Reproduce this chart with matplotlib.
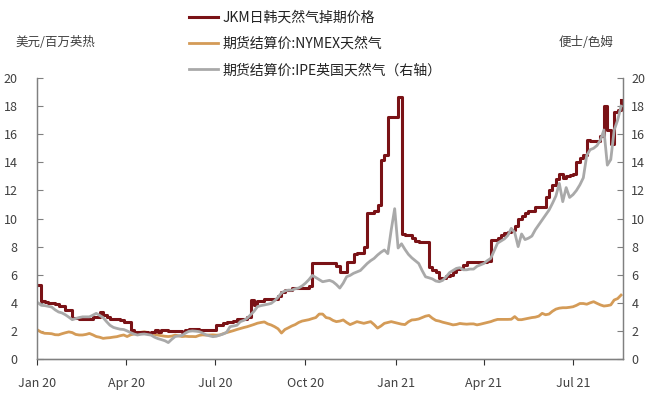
import matplotlib
matplotlib.use("Agg")
import matplotlib.pyplot as plt
import matplotlib.dates as mdates
import pandas as pd

plt.rcParams['font.family'] = ['Noto Sans CJK SC', 'DejaVu Sans']

# sampling dates (every 3.5 days)
dates = pd.date_range('2020-01-02', periods=171, freq='84h')

jkm = [5.3, 4.1, 4.05, 3.96, 3.96, 3.9, 3.77, 3.77, 3.5, 3.49,
       2.9, 2.9, 2.85, 2.82, 2.82, 2.82, 3.0, 3.0, 3.37, 3.1,
       3.0, 2.85, 2.82, 2.82, 2.8, 2.66, 2.66, 2.1, 1.95, 1.95,
       1.95, 1.95, 1.88, 1.95, 2.06, 1.95, 2.1, 2.05, 1.98, 2.0,
       2.0, 2.0, 1.95, 2.1, 2.17, 2.17, 2.17, 2.1, 2.1, 2.1,
       2.1, 2.1, 2.42, 2.42, 2.55, 2.66, 2.6, 2.7, 2.85, 2.85,
       2.85, 3.02, 4.2, 3.84, 4.15, 4.15, 4.27, 4.27, 4.27, 4.27,
       4.5, 4.8, 4.9, 4.9, 5.03, 5.03, 5.03, 5.03, 5.03, 5.2,
       6.85, 6.85, 6.85, 6.8, 6.8, 6.8, 6.85, 6.6, 6.2, 6.2,
       6.9, 6.9, 7.5, 7.52, 7.52, 8.0, 10.37, 10.37, 10.5, 10.96,
       14.16, 14.5, 17.25, 17.25, 17.25, 18.67, 8.9, 8.8, 8.8, 8.6,
       8.4, 8.3, 8.3, 8.3, 6.57, 6.3, 6.2, 5.74, 5.74, 5.9,
       6.0, 6.2, 6.4, 6.5, 6.69, 6.9, 6.93, 6.93, 6.93, 6.93,
       6.93, 7.0, 8.5, 8.5, 8.6, 8.83, 8.95, 9.07, 9.2, 9.5,
       9.95, 10.2, 10.4, 10.5, 10.5, 10.8, 10.8, 10.8, 11.55, 12.0,
       12.4, 12.8, 13.2, 12.9, 13.0, 13.1, 13.2, 14.0, 14.3, 14.5,
       15.6, 15.5, 15.5, 15.5, 15.9, 18.0, 16.3, 15.3, 17.6, 17.7,
       18.4]

nymex = [2.05, 1.9, 1.83, 1.82, 1.8, 1.73, 1.72, 1.8, 1.87, 1.93,
         1.88, 1.75, 1.71, 1.71, 1.75, 1.82, 1.72, 1.6, 1.55, 1.47,
         1.5, 1.52, 1.56, 1.59, 1.66, 1.71, 1.6, 1.72, 1.78, 1.84,
         1.9, 1.94, 1.88, 1.8, 1.75, 1.7, 1.66, 1.62, 1.6, 1.63,
         1.7, 1.65, 1.6, 1.62, 1.6, 1.6, 1.59, 1.68, 1.72, 1.7,
         1.71, 1.72, 1.7, 1.71, 1.8, 1.88, 1.95, 2.02, 2.1, 2.17,
         2.24, 2.3, 2.38, 2.46, 2.55, 2.6, 2.64, 2.5, 2.42, 2.3,
         2.15, 1.85, 2.1, 2.22, 2.35, 2.45, 2.6, 2.7, 2.75, 2.8,
         2.88, 2.95, 3.2, 3.2, 2.95, 2.9, 2.75, 2.66, 2.7, 2.78,
         2.6, 2.45, 2.55, 2.66, 2.6, 2.54, 2.6, 2.66, 2.45, 2.2,
         2.35, 2.54, 2.6, 2.66, 2.6, 2.54, 2.48, 2.45, 2.65, 2.78,
         2.8, 2.85, 2.95, 3.05, 3.1, 2.9, 2.75, 2.7, 2.62, 2.56,
         2.5, 2.43, 2.46, 2.53, 2.5, 2.48, 2.5, 2.5, 2.43, 2.48,
         2.54, 2.6, 2.66, 2.75, 2.82, 2.82, 2.82, 2.82, 2.83, 3.02,
         2.8, 2.8, 2.85, 2.9, 2.95, 2.98, 3.05, 3.25, 3.15, 3.2,
         3.4, 3.55, 3.62, 3.65, 3.65, 3.68, 3.72, 3.82, 3.95, 3.95,
         3.9, 4.0, 4.08, 3.96, 3.85, 3.77, 3.8, 3.85, 4.2, 4.3,
         4.55]

ipe = [4.0, 3.82, 3.8, 3.75, 3.7, 3.5, 3.35, 3.28, 3.15, 2.98,
       2.8, 2.88, 2.95, 3.0, 3.0, 3.0, 3.12, 3.25, 3.1, 2.95,
       2.66, 2.4, 2.25, 2.18, 2.12, 2.1, 2.0, 1.88, 1.78, 1.71,
       1.76, 1.78, 1.74, 1.7, 1.55, 1.45, 1.38, 1.3, 1.17, 1.4,
       1.6, 1.64, 1.68, 1.85, 1.97, 2.0, 1.98, 1.95, 1.85, 1.72,
       1.65, 1.59, 1.62, 1.7, 1.78, 1.9, 2.3, 2.35, 2.4, 2.66,
       2.75, 2.9, 3.15, 3.4, 3.73, 3.8, 3.85, 3.9, 3.96, 4.15,
       4.4, 4.7, 4.85, 4.9, 4.9, 5.0, 5.05, 5.2, 5.4, 5.65,
       5.95, 5.8, 5.65, 5.5, 5.55, 5.6, 5.5, 5.3, 5.05, 5.4,
       5.86, 5.95, 6.1, 6.2, 6.3, 6.55, 6.8, 7.0, 7.16, 7.4,
       7.6, 7.76, 7.5, 9.2, 10.7, 7.9, 8.2, 7.8, 7.45, 7.2,
       7.0, 6.8, 6.3, 5.85, 5.78, 5.7, 5.55, 5.5, 5.6, 5.85,
       6.15, 6.3, 6.45, 6.5, 6.35, 6.35, 6.4, 6.4, 6.6, 6.7,
       6.8, 7.0, 7.16, 7.7, 8.25, 8.4, 8.55, 8.8, 9.3, 9.0,
       8.0, 8.9, 8.5, 8.6, 8.75, 9.2, 9.55, 9.9, 10.25, 10.6,
       11.08, 11.6, 12.5, 11.2, 12.2, 11.5, 11.7, 12.0, 12.4, 12.9,
       14.5, 14.9, 15.0, 15.2, 15.6, 16.3, 13.8, 14.2, 16.3, 17.0,
       18.0]

labels = ['JKM日韩天然气掉期价格', '期货结算价:NYMEX天然气', '期货结算价:IPE英国天然气（右轴）']
left_unit = '美元/百万英热'
right_unit = '便士/色姆'
yticks = list(range(0, 21, 2))
xtick_dates = pd.to_datetime(['2020-01-01', '2020-04-01', '2020-07-01', '2020-10-01',
                              '2021-01-01', '2021-04-01', '2021-07-01'])

c_jkm = '#7A1216'
c_nym = '#D49B57'
c_ipe = '#A9A9A9'
tick_c = '#404040'

fig = plt.figure(figsize=(6.59, 3.94), dpi=100)
ax = fig.add_axes([0.0561, 0.0888, 0.8893, 0.7132])
ax2 = ax.twinx()

l2, = ax.plot(dates, nymex, color=c_nym, lw=2.0)
l1, = ax.plot(dates, jkm, color=c_jkm, lw=2.2, drawstyle='steps-post')
l3, = ax2.plot(dates, ipe, color=c_ipe, lw=2.0)

for a in (ax, ax2):
    a.set_ylim(0, 20)
    a.set_yticks(yticks)
    a.set_xlim(pd.Timestamp('2020-01-01'), pd.Timestamp('2021-08-21'))
    a.spines['top'].set_visible(False)
    for s in ('left', 'right', 'bottom'):
        a.spines[s].set_color('#808080')
        a.spines[s].set_linewidth(0.9)
    a.tick_params(axis='y', direction='in', length=4, colors='#808080',
                  labelcolor=tick_c, labelsize=9)

ax.spines['bottom'].set_color('#333333')
ax.set_xticks(xtick_dates)
ax.xaxis.set_major_formatter(mdates.DateFormatter('%b %y'))
ax.tick_params(axis='x', direction='out', length=4, colors='#333333',
               labelcolor=tick_c, labelsize=9, pad=9)
ax.tick_params(axis='y', pad=14)
ax2.tick_params(axis='y', pad=6)

fig.text(15 / 659, 1 - 42 / 394, left_unit, fontsize=9, color=tick_c,
         ha='left', va='center')
fig.text(613 / 659, 1 - 42 / 394, right_unit, fontsize=9, color=tick_c,
         ha='right', va='center')

fig.legend([l1, l2, l3], labels, loc='upper left',
           bbox_to_anchor=(186 / 659, 1 - 8 / 394), frameon=False,
           fontsize=10, handlelength=2.1, handletextpad=0.3,
           labelspacing=0.88, borderaxespad=0, borderpad=0.2,
           labelcolor='#222222')

fig.savefig('out.png', dpi=100)
